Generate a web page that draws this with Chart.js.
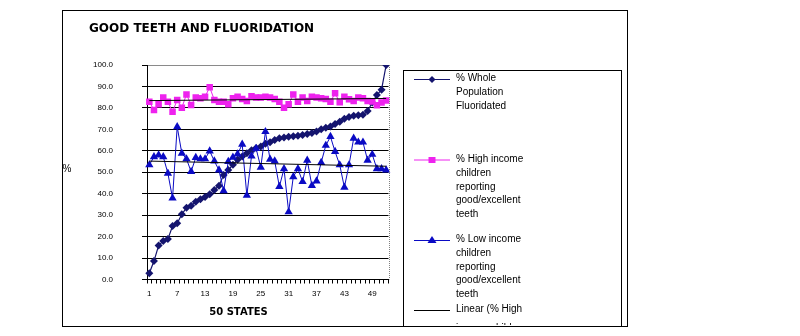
<!DOCTYPE html>
<html>
<head>
<meta charset="utf-8">
<script src="https://cdn.jsdelivr.net/npm/chart.js@4/dist/chart.umd.min.js"></script>
<style>
  html, body { margin: 0; padding: 0; background: #fff; }
  canvas { display: block; }
</style>
</head>
<body>
<canvas id="c" width="800" height="336"></canvas>
<script>
// States, ranked by share of population on fluoridated water
const states = [1,2,3,4,5,6,7,8,9,10,11,12,13,14,15,16,17,18,19,20,21,22,23,24,25,26,
  27,28,29,30,31,32,33,34,35,36,37,38,39,40,41,42,43,44,45,46,47,48,49,50,51,52];
const xTickLabels = ['1','7','13','19','25','31','37','43','49'];

const wholeFluoridated = [2.9, 8.6, 15.8, 18.0, 18.9, 24.9, 26.2, 30.4, 33.5, 34.4,
  36.3, 37.4, 38.5, 39.7, 41.7, 43.7, 48.7, 51.0, 53.5, 55.8,
  57.3, 58.9, 60.3, 61.3, 62.0, 63.3, 64.0, 65.0, 65.8, 66.2,
  66.5, 66.8, 67.0, 67.4, 67.8, 68.3, 69.0, 70.0, 70.8, 71.3,
  72.5, 73.6, 75.0, 75.8, 76.3, 76.6, 76.8, 78.5, 82.5, 86.0, 88.5, 100.0];

const highIncomeGood = [82.9, 79.0, 81.7, 84.8, 82.9, 78.2, 83.7, 80.1, 86.3, 81.4,
  84.8, 84.5, 85.2, 89.6, 83.7, 82.9, 82.9, 81.7, 84.5, 85.2,
  84.1, 83.2, 85.4, 84.9, 84.8, 85.2, 84.8, 84.1, 82.9, 80.1,
  81.7, 86.3, 82.9, 84.8, 83.2, 85.2, 84.8, 84.5, 84.2, 82.9,
  86.8, 82.6, 85.2, 84.0, 83.2, 84.8, 84.5, 83.2, 83.0, 81.2, 82.5, 83.5];

const lowIncomeGood = [53.4, 57.2, 58.0, 57.2, 49.5, 37.9, 71.2, 58.8, 56.2, 50.3,
  56.8, 56.2, 56.2, 59.9, 55.2, 51.0, 41.3, 55.0, 57.0, 58.5,
  63.0, 39.2, 57.5, 61.0, 52.3, 68.9, 56.0, 55.2, 43.3, 51.6,
  31.5, 47.9, 51.6, 45.6, 55.6, 43.8, 45.9, 54.5, 62.5, 66.6,
  59.6, 53.4, 43.0, 53.4, 65.8, 64.0, 64.0, 55.6, 58.3, 51.6, 51.6, 51.0];

// Linear trend lines: value at the first and the last state
const highTrendEnds = [83.4, 84.4];
const lowTrendEnds = [55.2, 52.8];

const legendLines = [
  ['% Whole', 'Population', 'Fluoridated'],
  ['% High income', 'children', 'reporting', 'good/excellent', 'teeth'],
  ['% Low income', 'children', 'reporting', 'good/excellent', 'teeth'],
  ['Linear (% High', 'income children']
];

const NAVY = '#14146e';
const MAGENTA = '#ee22ee';
const BLUE = '#0a0ac4';
const TXT = 'Liberation Sans, Arial, sans-serif';

function trendSeries(ends) {
  return states.map((s, i) => i === 0 ? ends[0] : (i === states.length - 1 ? ends[1] : null));
}

function marker(ctx, kind, x, y, color) {
  ctx.save();
  ctx.fillStyle = color;
  ctx.beginPath();
  if (kind === 'diamond') {
    ctx.moveTo(x, y - 3.5); ctx.lineTo(x + 3.5, y); ctx.lineTo(x, y + 3.5); ctx.lineTo(x - 3.5, y);
  } else if (kind === 'square') {
    ctx.rect(x - 3.5, y - 3, 7, 6);
  } else if (kind === 'triangle') {
    ctx.moveTo(x, y - 4.5); ctx.lineTo(x + 4.5, y + 2.5); ctx.lineTo(x - 4.5, y + 2.5);
  }
  ctx.closePath();
  ctx.fill();
  ctx.restore();
}

const decorations = {
  id: 'decorations',
  beforeDraw(chart) {
    const ctx = chart.ctx;
    ctx.save();
    ctx.fillStyle = '#fff';
    ctx.fillRect(0, 0, chart.width, chart.height);
    ctx.restore();
  },
  afterDraw(chart) {
    const ctx = chart.ctx;
    const area = chart.chartArea;
    ctx.save();

    // dotted right edge of the plot area
    ctx.strokeStyle = '#808080';
    ctx.lineWidth = 1;
    ctx.setLineDash([1, 1]);
    ctx.beginPath();
    ctx.moveTo(Math.round(area.right) + 0.5, area.top);
    ctx.lineTo(Math.round(area.right) + 0.5, area.bottom);
    ctx.stroke();
    ctx.setLineDash([]);

    // outer frame
    ctx.strokeStyle = '#000';
    ctx.strokeRect(62.5, 10.5, 565, 316);

    // title
    ctx.fillStyle = '#000';
    ctx.font = 'bold 12px "DejaVu Sans", sans-serif';
    ctx.textAlign = 'left';
    ctx.textBaseline = 'middle';
    ctx.fillText('GOOD TEETH AND FLUORIDATION', 89, 28.5);

    // axis titles
    ctx.font = 'bold 10px "DejaVu Sans", sans-serif';
    ctx.textAlign = 'center';
    ctx.fillText('50 STATES', 238.5, 312.5);
    ctx.font = '10px ' + TXT;
    ctx.fillText('%', 67, 169);

    // legend box (its lower part is cut off by the frame)
    ctx.strokeRect(403.5, 70.5, 218, 256);
    ctx.save();
    ctx.beginPath();
    ctx.rect(404, 71, 217, 254);
    ctx.clip();
    const entries = [
      { color: NAVY, kind: 'diamond', lineY: 79, textY: 78 },
      { color: MAGENTA, kind: 'square', lineY: 159.5, textY: 159 },
      { color: BLUE, kind: 'triangle', lineY: 240, textY: 239 },
      { color: '#000', kind: null, lineY: 310, textY: 309 }
    ];
    entries.forEach((e, i) => {
      ctx.strokeStyle = e.color;
      ctx.lineWidth = 1;
      ctx.beginPath();
      ctx.moveTo(414, e.lineY + 0.5);
      ctx.lineTo(450, e.lineY + 0.5);
      ctx.stroke();
      if (e.kind) marker(ctx, e.kind, 432, e.lineY + 0.5, e.color);
      ctx.fillStyle = '#000';
      ctx.font = '10px ' + TXT;
      ctx.textAlign = 'left';
      ctx.textBaseline = 'middle';
      legendLines[i].forEach((t, k) => {
        ctx.fillText(t, 456, e.textY + k * 13.9 + (i === 3 && k > 0 ? 5.5 : 0));
      });
    });
    ctx.restore();
    ctx.restore();
  }
};

new Chart(document.getElementById('c'), {
  type: 'line',
  data: {
    labels: states.map(String),
    datasets: [
      {
        label: '% Whole Population Fluoridated',
        data: wholeFluoridated,
        borderColor: NAVY, backgroundColor: NAVY,
        borderWidth: 1.2, pointStyle: 'rectRot', pointRadius: 4,
        pointBorderWidth: 0, order: 4
      },
      {
        label: '% High income children reporting good/excellent teeth',
        data: highIncomeGood,
        borderColor: MAGENTA, backgroundColor: MAGENTA,
        borderWidth: 1, pointStyle: 'rect', pointRadius: 4.6,
        pointBorderWidth: 0, order: 3
      },
      {
        label: '% Low income children reporting good/excellent teeth',
        data: lowIncomeGood,
        borderColor: BLUE, backgroundColor: BLUE,
        borderWidth: 1, pointStyle: 'triangle', pointRadius: 4.8,
        pointBorderWidth: 0, order: 2
      },
      {
        label: 'Linear (% High income children reporting good/excellent teeth)',
        data: trendSeries(highTrendEnds),
        borderColor: '#000', borderWidth: 1, pointRadius: 0,
        spanGaps: true, order: 1
      },
      {
        label: 'Linear (% Low income children reporting good/excellent teeth)',
        data: trendSeries(lowTrendEnds),
        borderColor: '#000', borderWidth: 1, pointRadius: 0,
        spanGaps: true, order: 1
      }
    ]
  },
  options: {
    responsive: false,
    animation: false,
    devicePixelRatio: 1,
    layout: { padding: { top: 65, right: 411.5, bottom: 0, left: 0 } },
    plugins: { legend: { display: false }, tooltip: { enabled: false }, title: { display: false } },
    elements: { line: { tension: 0 } },
    scales: {
      x: {
        type: 'category',
        offset: true,
        afterFit(scale) { scale.height = 56.5; },
        border: { display: true, color: '#000', width: 1 },
        grid: { display: true, drawOnChartArea: false, drawTicks: true, tickLength: 4,
                offset: true, color: '#000', tickColor: '#000' },
        ticks: {
          autoSkip: false, maxRotation: 0, minRotation: 0, padding: 5,
          color: '#000', font: { family: TXT, size: 8 },
          callback(value, index) {
            const lab = states[index] !== undefined ? String(states[index]) : '';
            return xTickLabels.includes(lab) ? lab : '';
          }
        }
      },
      y: {
        min: 0, max: 100,
        afterFit(scale) { scale.width = 147; },
        border: { display: true, color: '#000', width: 1 },
        grid: {
          drawTicks: true, tickLength: 5, tickColor: '#000',
          color(ctx) { return ctx.tick && ctx.tick.value === 100 ? '#8a8a8a' : '#000'; }
        },
        ticks: {
          stepSize: 10, padding: 29, color: '#000',
          font: { family: TXT, size: 8 },
          callback(v) { return Number(v).toFixed(1); }
        }
      }
    }
  },
  plugins: [decorations]
});
</script>
</body>
</html>
